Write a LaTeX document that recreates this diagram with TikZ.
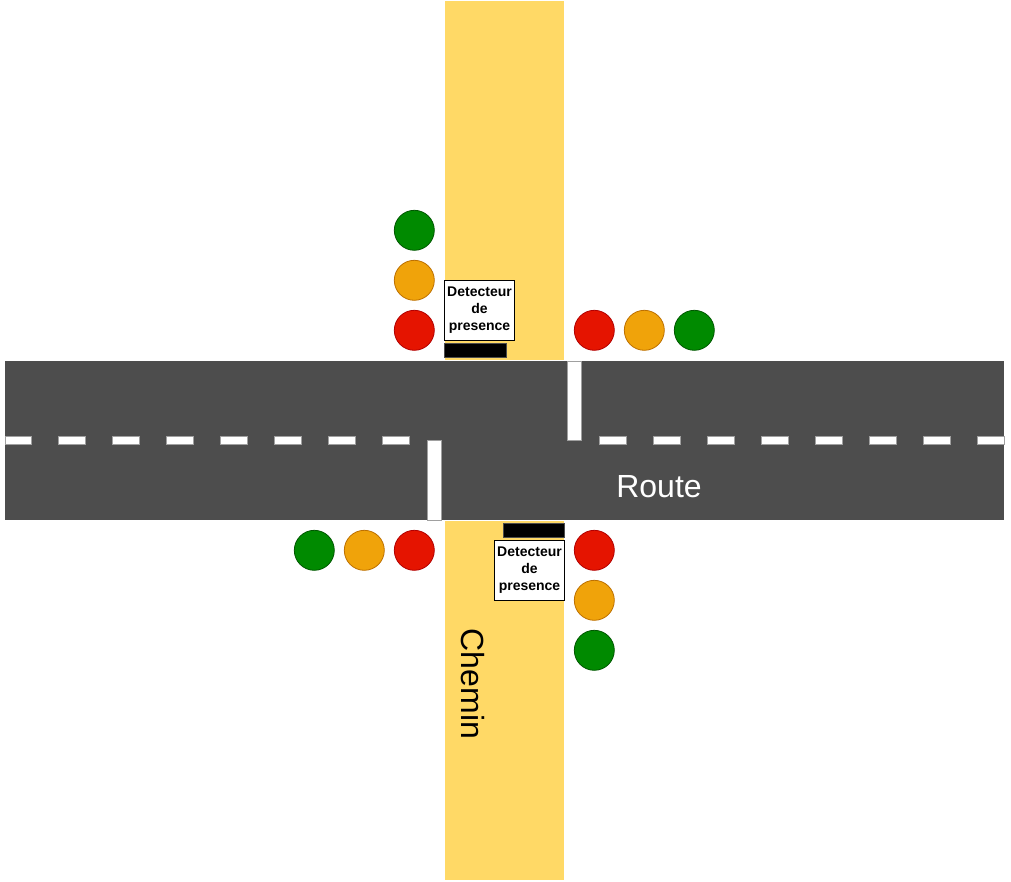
\documentclass[tikz,border=0pt]{standalone}
\usepackage{fontspec}
\setmainfont{Liberation Sans}
\definecolor{roadc}{HTML}{4D4D4D}
\definecolor{pathc}{HTML}{FFD966}
\definecolor{gfill}{HTML}{008A00}\definecolor{gline}{HTML}{005700}
\definecolor{ofill}{HTML}{F0A30A}\definecolor{oline}{HTML}{BD7000}
\definecolor{rfill}{HTML}{E51400}\definecolor{rline}{HTML}{B20000}
\definecolor{markline}{HTML}{A0A0A0}
\tikzset{
  lamp/.style={circle, minimum size=40pt, inner sep=0pt, line width=0.8pt},
  glamp/.style={lamp, fill=gfill, draw=gline},
  olamp/.style={lamp, fill=ofill, draw=oline},
  rlamp/.style={lamp, fill=rfill, draw=rline},
  detbox/.style={draw=black, fill=white, line width=0.8pt, inner sep=0pt, font=\fontsize{14}{17}\selectfont\bfseries, align=center},
  sensor/.style={draw=roadc, fill=black, line width=0.8pt},
  roadmark/.style={fill=white, draw=markline, line width=0.8pt},
  bigtext/.style={font=\fontsize{32}{38}\selectfont, inner sep=0pt}
}
\begin{document}
\begin{tikzpicture}[x=1pt,y=-1pt]
\useasboundingbox[fill=white] (0,0) rectangle (1011,881);
% yellow path
\fill[pathc] (445,1) rectangle (564,360);
\fill[pathc] (445,521) rectangle (564,880);
% road
\fill[roadc] (5,361) rectangle (1004,520);
% centre dashes
\draw[roadmark] (5,436) rectangle (31.5,444);
\foreach \k in {0,...,6} {
  \draw[roadmark] ({58.3+54*\k},436) rectangle ({85.5+54*\k},444);
}
\foreach \k in {0,...,7} {
  \draw[roadmark] ({599.3+54*\k},436) rectangle ({626.5+54*\k},444);
}
% stop lines
\draw[roadmark] (567.3,361) rectangle (581.5,440.5);
\draw[roadmark] (427.3,440.5) rectangle (441.5,520);
% sensors
\draw[sensor] (444.3,343.3) rectangle (506,357.3);
\draw[sensor] (503,523.3) rectangle (564.5,537.7);
% detector labels
\node[detbox, minimum width=70.5pt, minimum height=60.5pt] (d1) at (479.5,310.5) {Detecteur\\de\\presence};
\node[detbox, minimum width=70.5pt, minimum height=60pt] (d2) at (529.5,570.3) {Detecteur\\de\\presence};
% lights: top left column
\node[glamp] (tlg) at (414.3,230.3) {};
\node[olamp] (tlo) at (414.3,280.3) {};
\node[rlamp] (tlr) at (414.3,330.3) {};
% top right row
\node[rlamp] (trr) at (594.3,330.3) {};
\node[olamp] (tro) at (644.3,330.3) {};
\node[glamp] (trg) at (694.3,330.3) {};
% bottom left row
\node[glamp] (blg) at (314.3,550.3) {};
\node[olamp] (blo) at (364.3,550.3) {};
\node[rlamp] (blr) at (414.3,550.3) {};
% bottom right column
\node[rlamp] (brr) at (594.3,550.3) {};
\node[olamp] (bro) at (594.3,600.3) {};
\node[glamp] (brg) at (594.3,650.3) {};
% labels
\node[bigtext, text=white, anchor=base] (route) at (659,497) {Route};
\node[bigtext, text=black, anchor=base, rotate=-90] (chemin) at (461,684) {Chemin};
\end{tikzpicture}
\end{document}
